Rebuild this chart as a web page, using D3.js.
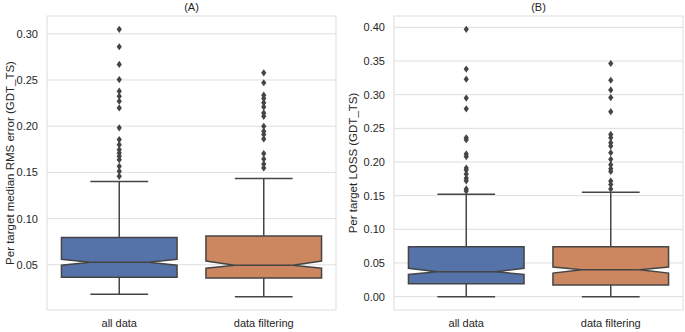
<!DOCTYPE html>
<html>
<head>
<meta charset="utf-8">
<script src="https://cdn.jsdelivr.net/npm/d3@7"></script>
<style>
  body { margin: 0; background: #fff; }
  svg text { font-family: "Liberation Sans", Arial, sans-serif; fill: #262626; }
</style>
</head>
<body>
<div id="chart"></div>
<script>
var width  = 685;
var height = 332;

var categories = ["all data", "data filtering"];
var titles     = ["(A)", "(B)"];
var yLabels    = ["Per target median RMS error (GDT_TS)", "Per target LOSS (GDT_TS)"];

// box stats: [whisker low, q1, notch low, median, notch high, q3, whisker high]
var rmsAllBox   = [0.018, 0.0365, 0.0496, 0.0528, 0.056, 0.0795, 0.140];
var rmsFiltBox  = [0.0155, 0.0358, 0.0463, 0.0496, 0.054, 0.081, 0.1435];
var lossAllBox  = [0.0, 0.0193, 0.033, 0.037, 0.042, 0.074, 0.152];
var lossFiltBox = [0.0, 0.0174, 0.035, 0.040, 0.044, 0.074, 0.155];

var rmsAllFliers  = [0.3048, 0.286, 0.2668, 0.2505, 0.2379, 0.2324, 0.227, 0.2198, 0.1982,
                     0.1855, 0.180, 0.1746, 0.171, 0.1674, 0.1638, 0.1565, 0.1511, 0.1457];
var rmsFiltFliers = [0.2578, 0.247, 0.2336, 0.230, 0.2253, 0.2209, 0.2144, 0.2107, 0.1999,
                     0.1945, 0.191, 0.1862, 0.1703, 0.1645, 0.159, 0.1548];
var lossAllFliers  = [0.397, 0.338, 0.323, 0.295, 0.279, 0.236, 0.233, 0.212, 0.208,
                      0.191, 0.188, 0.182, 0.176, 0.172, 0.160, 0.157];
var lossFiltFliers = [0.3463, 0.3214, 0.307, 0.2957, 0.2748, 0.241, 0.236, 0.2287, 0.2237,
                      0.2138, 0.2039, 0.196, 0.190, 0.186, 0.1716, 0.1667, 0.160];

var rmsTicks  = [0.05, 0.10, 0.15, 0.20, 0.25, 0.30];
var lossTicks = [0.00, 0.05, 0.10, 0.15, 0.20, 0.25, 0.30, 0.35, 0.40];

var colors   = ["#5573a8", "#cd8760"];
var lineCol  = "#454545";
var gridCol  = "#dedede";

var panels = [
    { left: 47,  boxes: [rmsAllBox, rmsFiltBox],   fliers: [rmsAllFliers, rmsFiltFliers],   ticks: rmsTicks,  labelX: 10 },
    { left: 394, boxes: [lossAllBox, lossFiltBox], fliers: [lossAllFliers, lossFiltFliers], ticks: lossTicks, labelX: 353 }
];

var plotTop = 16, plotBottom = 310, pw = 289;

var svg = d3.select("#chart")
    .append("svg")
    .attr("width", width)
    .attr("height", height);

panels.forEach(function(p, pi) {

    var allVals = [];
    p.boxes.forEach(function(b) { allVals.push(b[0], b[6]); });
    p.fliers.forEach(function(f) { allVals = allVals.concat(f); });
    var lo = d3.min(allVals), hi = d3.max(allVals);
    var pad = (hi - lo) * 0.05;

    var y = d3.scaleLinear()
        .domain([lo - pad, hi + pad])
        .range([plotBottom, plotTop]);

    var x = d3.scaleBand()
        .domain(categories)
        .range([p.left, p.left + pw])
        .padding(0);

    var g = svg.append("g");

    // grid
    g.selectAll(".grid")
        .data(p.ticks)
        .enter().append("line")
        .attr("x1", p.left)
        .attr("x2", p.left + pw)
        .attr("y1", function(d) { return y(d); })
        .attr("y2", function(d) { return y(d); })
        .attr("stroke", gridCol)
        .attr("stroke-width", 1);

    g.append("rect")
        .attr("x", p.left)
        .attr("y", plotTop)
        .attr("width", pw)
        .attr("height", plotBottom - plotTop)
        .attr("fill", "none")
        .attr("stroke", gridCol)
        .attr("stroke-width", 1);

    var yAxis = d3.axisLeft(y).tickValues(p.ticks).tickFormat(d3.format(".2f")).tickSize(0).tickPadding(9);
    var ya = g.append("g")
        .attr("transform", "translate(" + p.left + ",0)")
        .call(yAxis);
    ya.select(".domain").remove();
    ya.selectAll("text").style("font-size", "11px").attr("fill", "#333");

    var xAxis = d3.axisBottom(x).tickSize(0).tickPadding(9);
    var xa = g.append("g")
        .attr("transform", "translate(0," + plotBottom + ")")
        .call(xAxis);
    xa.select(".domain").remove();
    xa.selectAll("text").style("font-size", "11px").attr("fill", "#333");

    g.append("text")
        .attr("x", p.left + pw / 2)
        .attr("y", 11)
        .attr("text-anchor", "middle")
        .style("font-size", "11px")
        .attr("fill", "#333")
        .text(titles[pi]);

    g.append("text")
        .attr("transform", "translate(" + p.labelX + "," + ((plotTop + plotBottom) / 2) + ") rotate(-90)")
        .attr("text-anchor", "middle")
        .attr("dominant-baseline", "central")
        .style("font-size", "11.5px")
        .attr("fill", "#333")
        .text(yLabels[pi]);

    // boxes
    categories.forEach(function(c, i) {
        var b = p.boxes[i];
        var cx = x(c) + x.bandwidth() / 2;
        var w = x.bandwidth() * 0.8;
        var bl = cx - w / 2, br = cx + w / 2;
        var nl = cx - w * 0.25, nr = cx + w * 0.25;
        var cap = w * 0.25;

        // whiskers
        g.append("line")
            .attr("x1", cx).attr("x2", cx)
            .attr("y1", y(b[1])).attr("y2", y(b[0]))
            .attr("stroke", lineCol).attr("stroke-width", 1.5);
        g.append("line")
            .attr("x1", cx).attr("x2", cx)
            .attr("y1", y(b[5])).attr("y2", y(b[6]))
            .attr("stroke", lineCol).attr("stroke-width", 1.5);
        [b[0], b[6]].forEach(function(v) {
            g.append("line")
                .attr("x1", cx - cap).attr("x2", cx + cap)
                .attr("y1", y(v)).attr("y2", y(v))
                .attr("stroke", lineCol).attr("stroke-width", 1.5);
        });

        var pts = [[bl, b[1]], [br, b[1]], [br, b[2]], [nr, b[3]], [br, b[4]], [br, b[5]],
                   [bl, b[5]], [bl, b[4]], [nl, b[3]], [bl, b[2]]];
        g.append("path")
            .attr("d", d3.line().x(function(d) { return d[0]; }).y(function(d) { return y(d[1]); })(pts) + "Z")
            .attr("fill", colors[i])
            .attr("stroke", lineCol)
            .attr("stroke-width", 1.5)
            .attr("stroke-linejoin", "miter");

        g.append("line")
            .attr("x1", nl).attr("x2", nr)
            .attr("y1", y(b[3])).attr("y2", y(b[3]))
            .attr("stroke", lineCol).attr("stroke-width", 1.5);

        // outliers
        g.selectAll(".flier" + i)
            .data(p.fliers[i])
            .enter().append("path")
            .attr("d", function(d) {
                var yy = y(d);
                return "M" + cx + "," + (yy - 3.6) + "L" + (cx + 2.6) + "," + yy +
                       "L" + cx + "," + (yy + 3.6) + "L" + (cx - 2.6) + "," + yy + "Z";
            })
            .attr("fill", lineCol);
    });
});
</script>
</body>
</html>
